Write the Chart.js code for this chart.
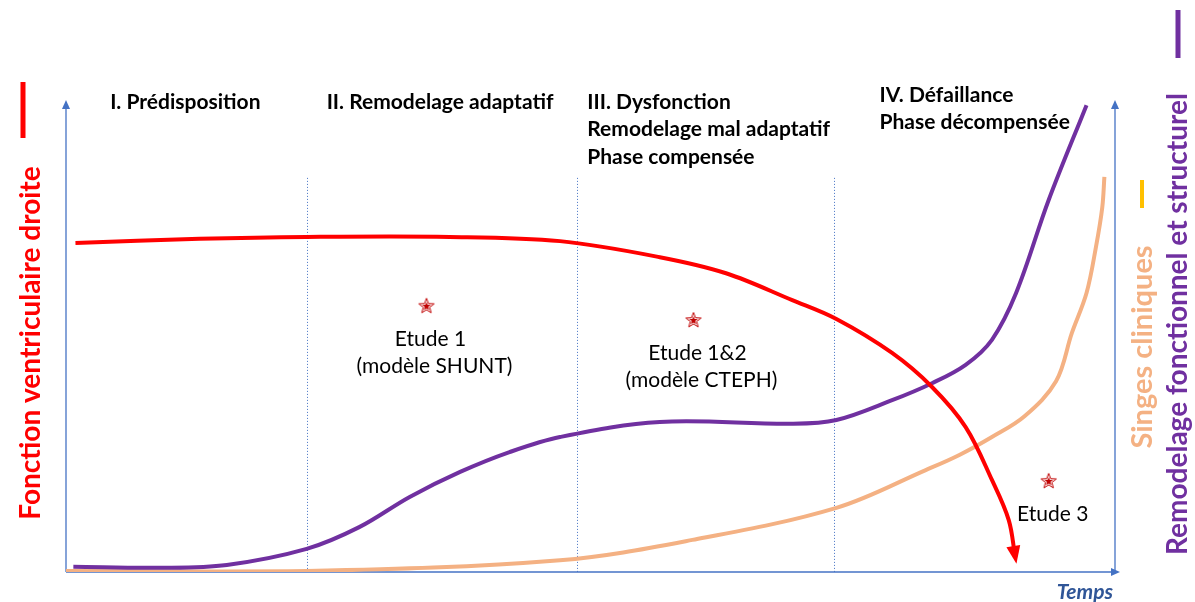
<!DOCTYPE html>
<html>
<head>
<meta charset="utf-8">
<script src="https://cdn.jsdelivr.net/npm/chart.js@4.4.1/dist/chart.umd.min.js"></script>
<style>
  html, body { margin: 0; padding: 0; background: #fff; }
  #wrap { width: 1195px; height: 602px; }
</style>
</head>
<body>
<div id="wrap"><canvas id="chart" width="1195" height="602"></canvas></div>
<script>
// Time axis 0..100, level axis 0..100 (arbitrary units)
const redX = [0.9, 12.7, 22.9, 36.5, 47.0, 56.5, 62.8, 69.1, 73.3, 78.6, 82.4, 85.6, 88.1, 89.7, 90.3];
const redY = [69.7, 70.6, 71.0, 71.0, 70.1, 66.7, 63.3, 57.6, 53.6, 46.4, 39.2, 30.7, 19.5, 11.0, 3.4];

const purpleX = [0.7, 8.9, 15.3, 22.9, 27.9, 32.7, 37.5, 42.2, 47.0, 56.5, 69.1, 73.3, 78.6, 82.4, 85.6, 88.1, 90.4, 93.5, 97.1];
const purpleY = [1.1, 0.9, 1.5, 4.9, 9.5, 15.9, 21.2, 25.4, 28.6, 31.8, 31.4, 32.2, 36.4, 40.0, 43.9, 49.2, 59.1, 78.8, 98.9];

const orangeX = [0.0, 22.9, 47.0, 59.6, 73.3, 81.8, 85.0, 88.1, 91.2, 94.2, 95.7, 97.1, 98.0, 98.6, 98.8];
const orangeY = [0.2, 0.2, 2.5, 6.8, 13.6, 21.6, 24.8, 28.6, 33.0, 40.4, 50.6, 59.1, 68.9, 77.3, 83.7];

const phaseBounds = [22.9, 48.6, 73.1];
const phaseTop = 83.5;

const phaseLabels = [
    { x: 4.2, y: 99.6, lines: ['I. Prédisposition'] },
    { x: 24.8, y: 99.6, lines: ['II. Remodelage adaptatif'] },
    { x: 49.6, y: 99.6, lines: ['III. Dysfonction', 'Remodelage mal adaptatif', 'Phase compensée'] },
    { x: 77.4, y: 101.1, lines: ['IV. Défaillance', 'Phase décompensée'] }
];

const studyX = [34.3, 59.7, 93.5];
const studyY = [56.4, 53.4, 19.3];
const studyLabels = [['Etude 1', '(modèle SHUNT)'], ['Etude 1&2', '(modèle CTEPH)'], ['Etude 3']];

const RED = '#FF0000';
const PURPLE = '#7030A0';
const ORANGE = '#F4B183';
const YELLOW = '#FFC000';
const AXIS = '#4472C4';

function pts(xs, ys) {
    return xs.map((x, i) => ({ x: x, y: ys[i] }));
}

// Small red star used as point style for the study markers
function makeStar() {
    const c = document.createElement('canvas');
    c.width = 18; c.height = 18;
    const g = c.getContext('2d');
    function star(r, rIn) {
        g.beginPath();
        for (let i = 0; i < 10; i++) {
            const rr = i % 2 === 0 ? r : rIn;
            const a = -Math.PI / 2 + i * Math.PI / 5;
            g.lineTo(9 + rr * Math.cos(a), 9.5 + rr * Math.sin(a));
        }
        g.closePath();
    }
    g.strokeStyle = '#C00000';
    g.lineWidth = 1;
    star(8, 3.4);
    g.fillStyle = '#fff';
    g.fill();
    g.stroke();
    star(4.5, 1.9);
    g.fillStyle = '#C00000';
    g.fill();
    return c;
}

const decorations = {
    id: 'decorations',
    beforeDatasetsDraw(chart) {
        const ctx = chart.ctx;
        const xs = chart.scales.x, ys = chart.scales.y;
        const a = chart.chartArea;
        ctx.save();
        // dotted phase separators
        ctx.strokeStyle = AXIS;
        ctx.lineWidth = 1;
        ctx.setLineDash([1, 2]);
        phaseBounds.forEach(v => {
            const px = Math.round(xs.getPixelForValue(v)) + 0.5;
            ctx.beginPath();
            ctx.moveTo(px, ys.getPixelForValue(phaseTop));
            ctx.lineTo(px, a.bottom);
            ctx.stroke();
        });
        ctx.setLineDash([]);
        // axes with arrows
        ctx.lineWidth = 1.3;
        ctx.fillStyle = AXIS;
        function arrowUp(x, y0, y1) {
            ctx.beginPath(); ctx.moveTo(x, y0); ctx.lineTo(x, y1 + 6); ctx.stroke();
            ctx.beginPath(); ctx.moveTo(x, y1); ctx.lineTo(x - 4, y1 + 9); ctx.lineTo(x + 4, y1 + 9); ctx.closePath(); ctx.fill();
        }
        arrowUp(a.left, a.bottom, a.top);
        arrowUp(a.right - 2, a.bottom, a.top);
        ctx.beginPath(); ctx.moveTo(a.left, a.bottom); ctx.lineTo(a.right - 4, a.bottom); ctx.stroke();
        ctx.beginPath(); ctx.moveTo(a.right + 3, a.bottom); ctx.lineTo(a.right - 6, a.bottom - 4); ctx.lineTo(a.right - 6, a.bottom + 4); ctx.closePath(); ctx.fill();
        ctx.restore();
    },
    afterDatasetsDraw(chart) {
        const ctx = chart.ctx;
        const xs = chart.scales.x, ys = chart.scales.y;
        ctx.save();
        // arrow head at the end of the red curve
        const meta = chart.getDatasetMeta(0).data;
        const p1 = meta[meta.length - 1], p0 = meta[meta.length - 2];
        const ang = Math.atan2(p1.y - p0.y, p1.x - p0.x);
        ctx.fillStyle = RED;
        ctx.translate(p1.x, p1.y);
        ctx.rotate(ang);
        ctx.beginPath();
        ctx.moveTo(8, 0); ctx.lineTo(-10, -7); ctx.lineTo(-10, 7); ctx.closePath();
        ctx.fill();
        ctx.restore();

        ctx.save();
        // phase headers
        ctx.fillStyle = '#000';
        ctx.font = 'bold 21px Lato';
        ctx.textBaseline = 'middle';
        ctx.textAlign = 'left';
        phaseLabels.forEach(p => {
            const px = xs.getPixelForValue(p.x);
            const py = ys.getPixelForValue(p.y);
            p.lines.forEach((t, i) => ctx.fillText(t, px, py + i * 27.5));
        });
        // study labels
        ctx.font = '21px Lato';
        ctx.textAlign = 'center';
        studyLabels.forEach((lines, i) => {
            const px = xs.getPixelForValue(studyX[i]) + 4;
            const py = ys.getPixelForValue(studyY[i]) + 33;
            lines.forEach((t, j) => ctx.fillText(t, px + (j ? 4 : 0), py + j * 27));
        });
        // Temps
        ctx.fillStyle = '#2F5597';
        ctx.font = 'italic bold 21px Lato';
        ctx.textAlign = 'right';
        ctx.fillText('Temps', 1113, 592);

        // rotated axis titles with their colour keys
        function vlabel(text, color, cx, cy, size) {
            ctx.save();
            ctx.translate(cx, cy);
            ctx.rotate(-Math.PI / 2);
            ctx.fillStyle = color;
            ctx.font = 'bold ' + size + 'px Lato';
            ctx.textAlign = 'center';
            ctx.textBaseline = 'middle';
            ctx.fillText(text, 0, 0);
            ctx.restore();
        }
        function dash(color, x, y0, y1, w) {
            ctx.fillStyle = color;
            ctx.fillRect(x - w / 2, y0, w, y1 - y0);
        }
        vlabel('Fonction ventriculaire droite', RED, 31, 343, 28);
        dash(RED, 23, 82, 138, 5);
        vlabel('Singes cliniques', ORANGE, 1143, 347, 29);
        dash(YELLOW, 1142, 180, 208, 4);
        vlabel('Remodelage fonctionnel et structurel', PURPLE, 1178, 324, 28);
        dash(PURPLE, 1178, 10, 58, 5);
        ctx.restore();
    }
};

new Chart(document.getElementById('chart'), {
    type: 'line',
    data: {
        datasets: [
            { label: 'Fonction ventriculaire droite', data: pts(redX, redY), borderColor: RED, borderWidth: 4, tension: 0.35, pointRadius: 0 },
            { label: 'Remodelage fonctionnel et structurel', data: pts(purpleX, purpleY), borderColor: PURPLE, borderWidth: 4, tension: 0.35, pointRadius: 0 },
            { label: 'Singes cliniques', data: pts(orangeX, orangeY), borderColor: ORANGE, borderWidth: 4, tension: 0.35, pointRadius: 0 },
            { type: 'scatter', label: 'Etudes', data: pts(studyX, studyY), pointStyle: makeStar(), pointRadius: 9, showLine: false }
        ]
    },
    options: {
        responsive: false,
        animation: false,
        layout: { padding: { left: 66, right: 78, top: 100, bottom: 30 } },
        plugins: { legend: { display: false }, tooltip: { enabled: false } },
        scales: {
            x: { type: 'linear', min: 0, max: 100, display: false },
            y: { type: 'linear', min: 0, max: 100, display: false }
        }
    },
    plugins: [decorations]
});
</script>
</body>
</html>
